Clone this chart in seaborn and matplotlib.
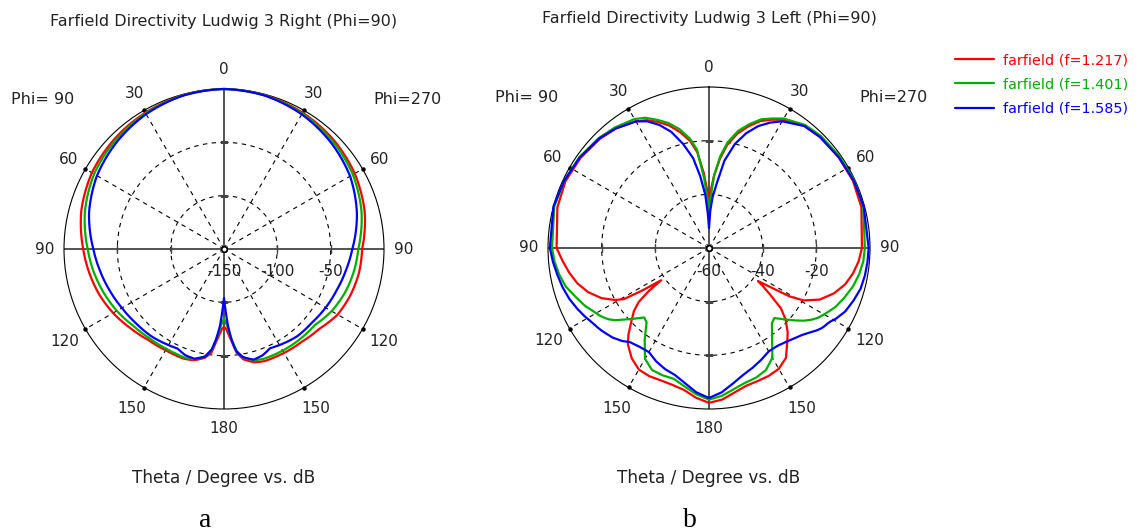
import numpy as np
import pandas as pd
import matplotlib
matplotlib.use("Agg")
import matplotlib.pyplot as plt
import seaborn as sns

# frequencies (GHz) and curve colours
freqs = ["1.217", "1.401", "1.585"]
colors = ["#ff0000", "#00b000", "#0000ff"]

# (a) Ludwig 3 Right, Phi=90 cut, dB
theta_a = [0, 15, 30, 45, 60, 75, 90, 100, 110, 120, 130, 140, 150, 155, 160, 165, 170, 173, 175, 177, 178.5, 180]
a_red_phi90 = [0, -0.8, -2.5, -4.5, -7, -11.5, -18, -21.7, -25.5, -30, -35, -39, -40.5, -40.5, -40.5, -42, -46.5, -52, -62, -70, -75, -77]
a_green_phi90 = [0, -1, -3.2, -6, -9.4, -15, -22.2, -26, -30, -34, -38.5, -41, -42, -42, -41.7, -43, -48, -55, -65, -75, -81, -85]
a_blue_phi90 = [0, -1.2, -4, -8, -12.5, -19, -27.5, -32, -36, -39.5, -42, -43.5, -46, -47, -44, -43.5, -47.5, -55, -65, -78, -92, -104]
a_red_phi270 = [0, -0.8, -2.5, -5, -8.5, -13.5, -20.5, -21.5, -23.8, -27, -33.5, -36.5, -37.5, -38, -38.2, -40, -45, -52, -62, -70, -75, -77]
a_green_phi270 = [0, -1, -3.3, -6.5, -10.5, -16.5, -24.1, -26.5, -29.5, -33.5, -39, -39.5, -40, -40.3, -40.5, -42, -47, -54, -64, -75, -81, -85]
a_blue_phi270 = [0, -1.2, -4.2, -8.5, -13.5, -21, -29.7, -34, -37.5, -40, -42.5, -43.2, -46, -47.5, -44, -42.6, -47, -53, -63, -78, -92, -104]

# (b) Ludwig 3 Left, Phi=90 cut, dB
theta_b = [0, 2, 4, 7, 10, 14, 18, 22, 26, 30, 38, 45, 55, 65, 75, 90, 95, 100, 105, 110, 115, 119, 121,
           122.5, 124, 125.5, 127.5, 130, 133, 137, 140, 145, 150, 155, 160, 165, 170, 175, 180]
b_red_phi90 = [-41, -38, -32, -24, -19.5, -15.5, -12, -9.3, -7, -5.5, -3.5, -2.5, -1.5, -1, -1.5, -3.2, -5.2, -7.1, -9.2,
               -12, -15.8, -20, -23, -30.5, -38.5, -32.5, -27, -23.5, -20.6, -16, -13, -9.8, -7.7, -7.3, -7.5, -7.2, -6.3, -4, -2.3]
b_green_phi90 = [-46, -41, -34, -23, -18.5, -14.3, -11, -8.5, -6, -4.5, -3, -2, -1, -0.5, -0.3, -1.5, -2.2, -3.3, -4.7,
                 -7, -9, -11, -11.8, -12.5, -13.3, -14.2, -15.8, -18.5, -21.3, -24.6, -23.8, -18.2, -12.3, -9.8, -9.5, -9.5, -7.6, -5.3, -3.5]
b_blue_phi90 = [-52.5, -47, -40, -33, -26, -20, -14.5, -10.5, -7.5, -5.5, -3.5, -2.2, -1.2, -0.5, 0, -0.7, -1.6, -2.6, -3.5,
                -4.6, -6, -7.2, -7.9, -8.3, -8.7, -9, -9.5, -10.2, -11, -12.6, -14.2, -15, -15.2, -13.4, -12, -11, -8.8, -6, -4.1]
b_red_phi270 = [-41, -38, -33, -26.5, -21, -16, -12.3, -9, -6.8, -4.8, -2.3, -1.5, -1, -0.8, -1.2, -3, -4, -5.5, -7.5,
                -10.5, -14.5, -19.7, -25, -33, -38, -35, -31, -25, -21, -17, -14.6, -10, -8, -7.4, -7.2, -6.8, -5.3, -3.3, -2.3]
b_green_phi270 = [-46, -41, -33, -25.5, -20, -15, -11.5, -8.3, -6.3, -4.3, -1.8, -1, -0.5, -0.3, -0.5, -1.9, -2.3, -3.2, -4.5,
                  -6.2, -8, -10, -11, -11.7, -12.7, -13.8, -15.5, -18, -20.9, -24.3, -23.5, -19, -12.75, -9.8, -8.6, -8, -6.6, -4.7, -3.5]
b_blue_phi270 = [-52.5, -46, -41, -35.4, -27, -20, -15, -11, -8, -5.5, -2.3, -1.5, -1, -0.5, -0.3, -0.5, -0.7, -1, -1.5,
                 -2.7, -4, -5.8, -7, -7.6, -8, -8.5, -9.5, -11, -12.5, -13.8, -14.6, -15.5, -15.5, -14, -12.5, -11, -8.7, -6, -4.1]


def make_frame(theta, phi90, phi270):
    rows = []
    for f, s90, s270 in zip(freqs, phi90, phi270):
        name = "farfield (f=%s)" % f
        for t, v in zip(theta, s270):
            rows.append((name, np.deg2rad(t), v))
        for t, v in zip(theta, s90):
            rows.append((name, np.deg2rad(360 - t), v))
    return pd.DataFrame(rows, columns=["curve", "ang", "db"])


df_a = make_frame(theta_a, [a_red_phi90, a_green_phi90, a_blue_phi90], [a_red_phi270, a_green_phi270, a_blue_phi270])
df_b = make_frame(theta_b, [b_red_phi90, b_green_phi90, b_blue_phi90], [b_red_phi270, b_green_phi270, b_blue_phi270])

sns.set_style("white")
plt.rcParams["font.family"] = ["DejaVu Sans"]
txt_col = "#222222"


def setup(ax, rmin, rticks, title, letter, rpx):
    ax.set_theta_zero_location("N")
    ax.set_theta_direction(-1)
    ax.set_ylim(rmin, 0)
    ax.set_xticks([])
    ax.set_yticks([])
    ax.grid(False)
    ax.spines["polar"].set_linewidth(0.8)
    ax.spines["polar"].set_color("black")
    full = np.linspace(0, 2 * np.pi, 361)
    for r in rticks[1:]:
        ax.plot(full, np.full_like(full, r), ls=(0, (4, 4)), color="black", lw=0.8, zorder=1)
    for d in range(0, 360, 30):
        a = np.deg2rad(d)
        if d % 90:
            ax.plot([a, a], [rmin, 0], ls=(0, (4, 4)), color="black", lw=0.8, zorder=1)
            ax.plot([a], [0], "o", ms=2.2, color="black", zorder=3, clip_on=False)
        else:
            ax.plot([a, a], [rmin, 0], color="#444444", lw=1.3, zorder=1.5)
            mk = "|" if d % 180 else "_"
            ax.plot([a, a], rticks[1:], mk, ms=6, mew=1.0, color="#444444", ls="none", zorder=1.5)
    ax.plot([0], [rmin], "o", ms=4, mfc="white", mec="black", mew=1.2, zorder=5)
    # angle labels
    for d in range(0, 360, 30):
        a = np.deg2rad(d)
        lab = d if d <= 180 else 360 - d
        k = 1.12 if d in (0, 30, 60, 90, 180, 270, 300, 330) else 1.15
        ax.text(0.5 + 0.5 * k * np.sin(a), 0.5 + 0.5 * k * np.cos(a), str(lab), transform=ax.transAxes,
                ha="center", va="center", fontsize=11, color=txt_col)
    # radial labels
    dy = 23 / (2 * rpx)
    for v in rticks:
        ax.text(0.5 + 0.5 * (v - rmin) / (-rmin), 0.5 - dy, str(v), transform=ax.transAxes,
                ha="center", va="center", fontsize=11, color=txt_col)
    ax.text(-0.067, 0.966, "Phi= 90", transform=ax.transAxes, ha="center", va="center", fontsize=11.5, color=txt_col)
    ax.text(1.073, 0.966, "Phi=270", transform=ax.transAxes, ha="center", va="center", fontsize=11.5, color=txt_col)
    ax.text(0.5, 1.212, title, transform=ax.transAxes, ha="center", va="center", fontsize=11.5, color=txt_col)
    ax.text(0.5, -0.215, "Theta / Degree vs. dB", transform=ax.transAxes, ha="center", va="center",
            fontsize=12.2, color=txt_col)
    ax.text(0.44, -0.347, letter, transform=ax.transAxes, ha="center", va="center",
            fontsize=20, family="Liberation Serif", color="black")
    ax.set_xlabel("")
    ax.set_ylabel("")


fig = plt.figure(figsize=(11.39, 5.32), dpi=100)
W, H = 1139, 532
ax_a = fig.add_axes([(224 - 160) / W, (H - 249 - 160) / H, 320 / W, 320 / H], projection="polar")
ax_b = fig.add_axes([(709 - 161) / W, (H - 248 - 161) / H, 322 / W, 322 / H], projection="polar")

sns.lineplot(data=df_a, x="ang", y="db", hue="curve", palette=colors, estimator=None, sort=True,
             lw=1.6, legend=False, ax=ax_a, clip_on=False, zorder=4)
sns.lineplot(data=df_b, x="ang", y="db", hue="curve", palette=colors, estimator=None, sort=True,
             lw=1.6, legend=True, ax=ax_b, clip_on=False, zorder=4)

# let the polar transform draw segments as curves (r linear in theta) instead of chords
for ax in (ax_a, ax_b):
    for ln in ax.lines[-3:]:
        ln.get_path()._interpolation_steps = 40

setup(ax_a, -150, [-150, -100, -50], "Farfield Directivity Ludwig 3 Right (Phi=90)", "a", 160)
setup(ax_b, -60, [-60, -40, -20], "Farfield Directivity Ludwig 3 Left (Phi=90)", "b", 161)

sns.move_legend(ax_b, "upper left", bbox_to_anchor=(955 / W, 1 - 53 / H), bbox_transform=fig.transFigure,
                frameon=False, title=None, labelcolor="linecolor", fontsize=10.4, handlelength=2.7,
                handletextpad=0.6, labelspacing=0.72, borderaxespad=0, borderpad=0)

fig.savefig("out.png", dpi=100)
